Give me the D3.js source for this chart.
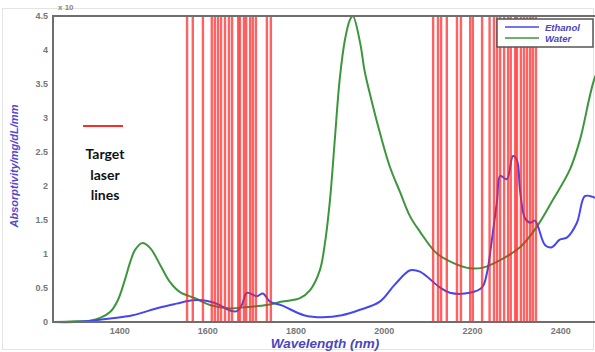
<!DOCTYPE html>
<html>
<head>
<meta charset="utf-8">
<script src="https://cdn.jsdelivr.net/npm/d3@7"></script>
<style>
  body { margin: 0; background: #fff; }
  svg { display: block; font-family: "Liberation Sans", Arial, sans-serif; }
</style>
</head>
<body>
<div id="chart"></div>
<script>
// wavelength (nm) / absorptivity pairs
var ethanolX = [1250, 1300, 1340, 1380, 1431, 1490, 1530, 1567, 1600, 1625, 1651, 1667, 1678, 1690, 1712, 1726, 1742, 1770, 1819, 1862, 1905, 1946, 1991, 2025, 2060, 2082, 2127, 2150, 2195, 2223, 2234, 2245, 2257, 2264, 2279, 2293, 2302, 2309, 2320, 2332, 2343, 2350, 2366, 2381, 2399, 2415, 2438, 2456, 2474, 2500];
var ethanolY = [0, 0, 0.02, 0.05, 0.1, 0.21, 0.27, 0.32, 0.31, 0.26, 0.17, 0.16, 0.25, 0.43, 0.38, 0.42, 0.3, 0.24, 0.1, 0.07, 0.1, 0.18, 0.3, 0.55, 0.76, 0.74, 0.51, 0.43, 0.43, 0.51, 0.72, 1.2, 1.79, 2.15, 2.1, 2.44, 2.38, 1.94, 1.53, 1.46, 1.49, 1.4, 1.13, 1.1, 1.21, 1.24, 1.46, 1.85, 1.84, 1.75];

var waterX = [1250, 1300, 1334, 1357, 1380, 1397, 1413, 1425, 1436, 1452, 1470, 1493, 1515, 1538, 1572, 1606, 1651, 1690, 1735, 1770, 1810, 1833, 1855, 1866, 1878, 1889, 1900, 1912, 1923, 1930, 1946, 1957, 1973, 1991, 2014, 2037, 2060, 2082, 2120, 2157, 2195, 2225, 2264, 2309, 2347, 2383, 2422, 2445, 2479, 2500];
var waterY = [0, 0.01, 0.02, 0.06, 0.15, 0.32, 0.62, 0.88, 1.06, 1.16, 1.09, 0.84, 0.59, 0.44, 0.35, 0.25, 0.2, 0.22, 0.25, 0.3, 0.35, 0.47, 0.76, 1.13, 1.79, 2.68, 3.56, 4.15, 4.44, 4.5, 4.12, 3.68, 3.24, 2.79, 2.28, 1.91, 1.55, 1.33, 1.01, 0.87, 0.79, 0.8, 0.91, 1.1, 1.4, 1.79, 2.24, 2.68, 3.6, 3.85];

// target laser wavelengths
var laserLines = [1554, 1567, 1590, 1610, 1617, 1624, 1631, 1640, 1649, 1656, 1670, 1674, 1683, 1688, 1697, 1703, 1710, 1735, 1744,
                  2112, 2123, 2130, 2143, 2166, 2175, 2196, 2202, 2223, 2240, 2250, 2257, 2264, 2273, 2282, 2288, 2298, 2302, 2311, 2318, 2325, 2332, 2338, 2345];

var xTicks = [1400, 1600, 1800, 2000, 2200, 2400];
var yTicks = [0, 0.5, 1, 1.5, 2, 2.5, 3, 3.5, 4, 4.5];
var seriesNames = ["Ethanol", "Water"];
var colors = ["#4646f0", "#3c963c"];

var w = 595, h = 352;
var plotLeft = 53, plotTop = 16, plotBottom = 322;

var svg = d3.select("#chart").append("svg")
    .attr("width", w)
    .attr("height", h);

// faint outer frame
svg.append("rect")
    .attr("x", 2.5).attr("y", 8.5)
    .attr("width", w - 4).attr("height", h - 11)
    .attr("fill", "none")
    .attr("stroke", "#e4e4e4");

var x = d3.scaleLinear().domain([1250, 2500]).range([plotLeft, plotLeft + 1250 * 0.441]);
var y = d3.scaleLinear().domain([0, 4.5]).range([plotBottom, plotTop]);

var line = d3.line()
    .x(function(d) { return x(d[0]); })
    .y(function(d) { return y(d[1]); })
    .curve(d3.curveCatmullRom);

var plot = svg.append("g");

plot.append("path")
    .datum(d3.zip(waterX, waterY))
    .attr("d", line)
    .attr("fill", "none")
    .attr("stroke", colors[1])
    .attr("stroke-width", 2);

plot.append("path")
    .datum(d3.zip(ethanolX, ethanolY))
    .attr("d", line)
    .attr("fill", "none")
    .attr("stroke", colors[0])
    .attr("stroke-width", 2);

// red laser lines on top
plot.selectAll("line.laser")
    .data(laserLines)
    .enter().append("line")
    .attr("class", "laser")
    .attr("x1", function(d) { return x(d); })
    .attr("x2", function(d) { return x(d); })
    .attr("y1", plotTop)
    .attr("y2", plotBottom)
    .attr("stroke", "#ff1f1f")
    .attr("stroke-opacity", 0.7)
    .attr("stroke-width", 2.4);

// axes
var xAxis = svg.append("g")
    .attr("transform", "translate(0," + plotBottom + ")")
    .call(d3.axisBottom(x).tickValues(xTicks).tickSize(0).tickPadding(6)
        .tickFormat(d3.format("d")));
var yAxis = svg.append("g")
    .attr("transform", "translate(" + plotLeft + ",0)")
    .call(d3.axisLeft(y).tickValues(yTicks).tickSize(0).tickPadding(5)
        .tickFormat(function(d) { return d; }));
[xAxis, yAxis].forEach(function(a) {
    a.select(".domain").remove();
    a.selectAll("text")
        .attr("fill", "#777")
        .attr("font-size", 9)
        .attr("font-weight", "bold")
        .attr("font-family", "Liberation Sans, Arial, sans-serif");
});

// frame: top, left, bottom
svg.append("path")
    .attr("d", "M" + (w + 5) + "," + plotTop + "H" + plotLeft + "V" + plotBottom + "H" + (w + 5))
    .attr("fill", "none")
    .attr("stroke", "#6e6e6e")
    .attr("stroke-width", 2);

svg.append("text")
    .attr("x", 58).attr("y", 10)
    .attr("font-size", 8)
    .attr("font-weight", "bold")
    .attr("fill", "#888")
    .text("x 10");

// axis titles
svg.append("text")
    .attr("transform", "translate(18,166) rotate(-90)")
    .attr("text-anchor", "middle")
    .attr("font-size", 11)
    .attr("font-style", "italic")
    .attr("font-weight", "bold")
    .attr("fill", "#5548d0")
    .text("Absorptivity/mg/dL/mm");

svg.append("text")
    .attr("x", 325).attr("y", 348)
    .attr("text-anchor", "middle")
    .attr("font-size", 13.5)
    .attr("font-style", "italic")
    .attr("font-weight", "bold")
    .attr("fill", "#4a46c0")
    .text("Wavelength (nm)");

// legend
var legend = svg.append("g").attr("transform", "translate(497,19)");
legend.append("rect")
    .attr("width", 96).attr("height", 28)
    .attr("fill", "#fff")
    .attr("stroke", "#555")
    .attr("stroke-width", 1.5);
var item = legend.selectAll("g.item")
    .data(seriesNames)
    .enter().append("g")
    .attr("class", "item")
    .attr("transform", function(d, i) { return "translate(0," + (8 + i * 11) + ")"; });
item.append("line")
    .attr("x1", 8).attr("x2", 42)
    .attr("stroke", function(d, i) { return colors[i]; })
    .attr("stroke-width", 1.5);
item.append("text")
    .attr("x", 48).attr("y", 3.5)
    .attr("font-size", 9.5)
    .attr("font-style", "italic")
    .attr("font-weight", "bold")
    .attr("fill", "#4a46c0")
    .text(function(d) { return d; });

// target laser lines note
svg.append("line")
    .attr("x1", 83).attr("x2", 123)
    .attr("y1", 126).attr("y2", 126)
    .attr("stroke", "#ff2a2a")
    .attr("stroke-width", 2);
svg.append("text")
    .attr("text-anchor", "middle")
    .attr("font-family", "Lato, 'Open Sans', sans-serif")
    .attr("font-weight", "bold")
    .attr("font-size", 14)
    .attr("fill", "#111")
    .selectAll("tspan")
    .data(["Target", "laser", "lines"])
    .enter().append("tspan")
    .attr("x", 105)
    .attr("y", function(d, i) { return 159 + i * 20.5; })
    .text(function(d) { return d; });
</script>
</body>
</html>
